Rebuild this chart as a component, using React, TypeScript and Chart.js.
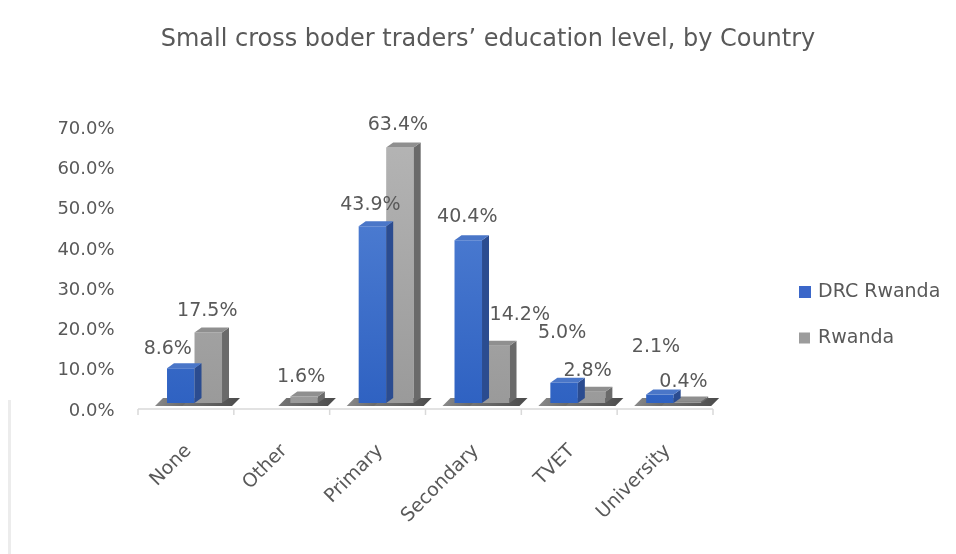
import React, { useEffect, useRef } from 'react';
import { Chart, registerables } from 'chart.js';

Chart.register(...registerables);

// ---- data ----
const titleText = "Small cross boder traders\u2019 education level, by Country";
const categories = ['None', 'Other', 'Primary', 'Secondary', 'TVET', 'University'];
const seriesNames = ['DRC Rwanda', 'Rwanda'];
const drcValues: (number | null)[] = [8.6, null, 43.9, 40.4, 5.0, 2.1];
const rwandaValues: (number | null)[] = [17.5, 1.6, 63.4, 14.2, 2.8, 0.4];
const yMin = 0;
const yMax = 70;
const yStep = 10;

// ---- style ----
const FONT = "'DejaVu Sans', sans-serif";
const TEXT = '#595959';
const DX = 7;
const DY = 5;
const palette = [
  { front: ['#5a88d8', '#2f62c2'], top: '#4a76c8', side: '#2b4c90', key: '#3b67c9' },
  { front: ['#b6b6b6', '#9a9a9a'], top: '#8f8f8f', side: '#6a6a6a', key: '#9c9c9c' },
];
// label nudges (dx, dy) relative to the default spot above each bar
const labelNudge = [
  [[-11, 3], [0, 0], [0, 1], [1, -1], [0, -28], [-2, -25]],
  [[1, 1], [-1, 3], [0, -1], [26, -9], [-2, 1], [-2, 3]],
];

const allValues = [drcValues, rwandaValues];

const threeD = {
  id: 'threeD',
  beforeDatasetsDraw(chart: any) {
    const ctx = chart.ctx;
    const base = chart.scales.y.getPixelForValue(0);
    ctx.save();
    // floor shadow under each bar
    allValues.forEach((vals, di) => {
      const meta = chart.getDatasetMeta(di);
      meta.data.forEach((el: any, i: number) => {
        if (vals[i] == null) return;
        const { x, width } = el.getProps(['x', 'width'], true);
        const L = x - width / 2;
        const R = x + width / 2;
        const g = ctx.createLinearGradient(L - 12, 0, R + 18, 0);
        g.addColorStop(0, di === 0 ? '#8a8a8a' : '#777777');
        g.addColorStop(1, '#4a4a4a');
        ctx.fillStyle = g;
        ctx.beginPath();
        ctx.moveTo(L - 12, base + 3);
        ctx.lineTo(L - 4, base - 5);
        ctx.lineTo(R + 18, base - 5);
        ctx.lineTo(R + 10, base + 3);
        ctx.closePath();
        ctx.fill();
      });
    });
    // axis baseline and boundary ticks (front edge of the floor)
    const xs = chart.scales.x;
    const step = (xs.right - xs.left) / categories.length;
    const shift = -8.6;
    const yl = base + 6;
    ctx.strokeStyle = '#d9d9d9';
    ctx.lineWidth = 1.5;
    ctx.beginPath();
    ctx.moveTo(xs.left + shift, yl);
    ctx.lineTo(xs.right + shift, yl);
    for (let k = 0; k <= categories.length; k++) {
      const x = xs.left + shift + k * step;
      ctx.moveTo(x, yl);
      ctx.lineTo(x, yl + 6);
    }
    ctx.stroke();
    ctx.restore();
  },
  afterDatasetDraw(chart: any, args: any) {
    const ctx = chart.ctx;
    const di = args.index;
    const vals = allValues[di];
    const col = palette[di];
    ctx.save();
    args.meta.data.forEach((el: any, i: number) => {
      if (vals[i] == null) return;
      const { x, y, base, width } = el.getProps(['x', 'y', 'base', 'width'], true);
      const L = x - width / 2;
      const R = x + width / 2;
      ctx.fillStyle = col.side;
      ctx.beginPath();
      ctx.moveTo(R, y);
      ctx.lineTo(R + DX, y - DY);
      ctx.lineTo(R + DX, base - DY);
      ctx.lineTo(R, base);
      ctx.closePath();
      ctx.fill();
      ctx.fillStyle = col.top;
      ctx.beginPath();
      ctx.moveTo(L, y);
      ctx.lineTo(L + DX, y - DY);
      ctx.lineTo(R + DX, y - DY);
      ctx.lineTo(R, y);
      ctx.closePath();
      ctx.fill();
    });
    ctx.restore();
  },
  afterDatasetsDraw(chart: any) {
    const ctx = chart.ctx;
    ctx.save();
    // data labels
    ctx.font = `19px ${FONT}`;
    ctx.fillStyle = TEXT;
    ctx.textAlign = 'center';
    ctx.textBaseline = 'middle';
    allValues.forEach((vals, di) => {
      const meta = chart.getDatasetMeta(di);
      meta.data.forEach((el: any, i: number) => {
        const v = vals[i];
        if (v == null) return;
        const { x, y } = el.getProps(['x', 'y'], true);
        const [nx, ny] = labelNudge[di][i];
        ctx.fillText(v.toFixed(1) + '%', x - 2 + nx, y - 22 + ny);
      });
    });
    // title
    ctx.font = `24px ${FONT}`;
    ctx.fillText(titleText, 488, 40);
    // legend
    ctx.textAlign = 'left';
    ctx.font = `19px ${FONT}`;
    seriesNames.forEach((name, k) => {
      const cy = 292 + k * 46;
      ctx.fillStyle = palette[k].key;
      const s = k === 0 ? 12 : 11;
      ctx.fillRect(799, cy - s / 2, s, s);
      ctx.fillStyle = TEXT;
      ctx.fillText(name, 818, cy);
    });
    // faint frame edge
    ctx.fillStyle = '#ececec';
    ctx.fillRect(8, 400, 3, 154);
    ctx.restore();
  },
};

function frontGradient(k: number) {
  return (c: any) => {
    const area = c.chart.chartArea;
    if (!area) return palette[k].front[1];
    const g = c.chart.ctx.createLinearGradient(0, area.top, 0, area.bottom);
    g.addColorStop(0, palette[k].front[0]);
    g.addColorStop(1, palette[k].front[1]);
    return g;
  };
}

export default function App() {
  const ref = useRef<HTMLCanvasElement>(null);
  useEffect(() => {
    const chart = new Chart(ref.current as HTMLCanvasElement, {
      type: 'bar',
      data: {
        labels: categories,
        datasets: [
          { label: seriesNames[0], data: drcValues, backgroundColor: frontGradient(0), borderWidth: 0 },
          { label: seriesNames[1], data: rwandaValues, backgroundColor: frontGradient(1), borderWidth: 0 },
        ],
      },
      options: {
        responsive: false,
        animation: false,
        devicePixelRatio: 1,
        categoryPercentage: 0.574,
        barPercentage: 1,
        layout: { padding: { left: 0, top: 121, right: 234.4, bottom: 1 } },
        plugins: {
          legend: { display: false },
          title: { display: false },
          tooltip: { enabled: false },
        },
        scales: {
          x: {
            grid: { display: false, drawTicks: false },
            border: { display: false },
            ticks: {
              autoSkip: false,
              minRotation: 45,
              maxRotation: 45,
              padding: 37,
              labelOffset: -6,
              color: TEXT,
              font: { family: FONT, size: 19 },
            },
            afterFit: (s: any) => { s.height = 150; },
          },
          y: {
            min: yMin,
            max: yMax,
            grid: { display: false, drawTicks: false },
            border: { display: false },
            ticks: {
              stepSize: yStep,
              padding: 32,
              labelOffset: 8,
              color: TEXT,
              font: { family: FONT, size: 18 },
              callback: (v: any) => Number(v).toFixed(1) + '%',
            },
            afterFit: (s: any) => { s.width = 146.6; },
          },
        },
      },
      plugins: [threeD],
    });
    return () => chart.destroy();
  }, []);
  return (
    <div style={{ position: 'absolute', left: 0, top: 0, width: 956, height: 554, background: '#fff' }}>
      <canvas ref={ref} width={956} height={554} style={{ display: 'block', width: 956, height: 554 }} />
    </div>
  );
}
